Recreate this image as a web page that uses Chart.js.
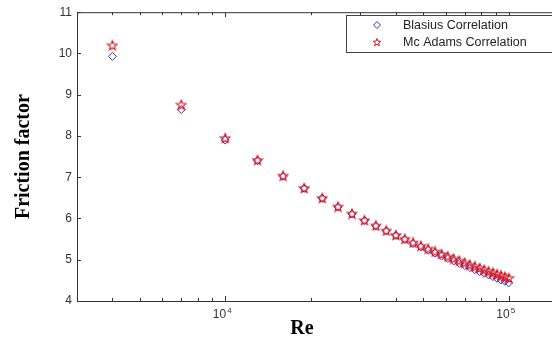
<!DOCTYPE html>
<html>
<head>
<meta charset="utf-8">
<script src="https://cdn.jsdelivr.net/npm/chart.js@4/dist/chart.umd.min.js"></script>
<style>
  html, body { margin: 0; padding: 0; background: #fff; overflow: hidden; width: 552px; height: 337px; }
  #wrap { width: 600px; height: 337px; }
</style>
</head>
<body>
<div id="wrap"><canvas id="chart" width="600" height="337" style="width:600px;height:337px"></canvas></div>
<script>
const reynolds = [4000, 7000, 10000, 13000, 16000, 19000, 22000, 25000, 28000, 31000, 34000,
  37000, 40000, 43000, 46000, 49000, 52000, 55000, 58000, 61000, 64000, 67000, 70000,
  73000, 76000, 79000, 82000, 85000, 88000, 91000, 94000, 97000, 100000];
const blasius = [9.93, 8.64, 7.90, 7.40, 7.02, 6.73, 6.49, 6.28, 6.11, 5.95, 5.82,
  5.70, 5.59, 5.49, 5.39, 5.31, 5.23, 5.16, 5.09, 5.03, 4.97, 4.91, 4.86,
  4.81, 4.76, 4.71, 4.67, 4.63, 4.59, 4.55, 4.51, 4.48, 4.44];
const mcAdams = [10.20, 8.76, 7.95, 7.42, 7.04, 6.74, 6.50, 6.29, 6.12, 5.96, 5.83,
  5.71, 5.60, 5.51, 5.42, 5.34, 5.27, 5.20, 5.14, 5.08, 5.03, 4.98, 4.93,
  4.88, 4.84, 4.80, 4.76, 4.72, 4.69, 4.65, 4.62, 4.59, 4.56];
const yTicks = [4, 5, 6, 7, 8, 9, 10, 11];
const majorX = [1e4, 1e5];
const minorX = [4000, 5000, 6000, 7000, 8000, 9000, 20000, 30000, 40000, 50000, 60000, 70000, 80000, 90000];
const seriesNames = ["Blasius Correlation", "Mc Adams Correlation"];

const blue = "#3636c4";
const red = "#d8141e";

function starPath(ctx, cx, cy, ro, ri) {
  ctx.beginPath();
  for (let i = 0; i < 10; i++) {
    const r = i % 2 === 0 ? ro : ri;
    const a = -Math.PI / 2 + i * Math.PI / 5;
    const px = cx + r * Math.cos(a), py = cy + r * Math.sin(a);
    if (i === 0) ctx.moveTo(px, py); else ctx.lineTo(px, py);
  }
  ctx.closePath();
}

function makeStar(size, ro, ri) {
  const c = document.createElement("canvas");
  c.width = size; c.height = size;
  const g = c.getContext("2d");
  g.strokeStyle = red;
  g.lineWidth = 1.1;
  starPath(g, size / 2, size / 2 + 0.5, ro, ri);
  g.stroke();
  return c;
}
const starImg = makeStar(12, 5, 2.2);

// box, inward ticks, 10^n labels, x title and legend (plot runs past the right edge)
const frame = {
  id: "frame",
  afterDraw(chart) {
    const { ctx, chartArea: a, scales: { x, y } } = chart;
    ctx.save();
    ctx.strokeStyle = "#333";
    ctx.lineWidth = 1;
    ctx.strokeRect(a.left + 0.5, a.top + 0.5, a.right - a.left, a.bottom - a.top);
    ctx.beginPath();
    yTicks.forEach(v => {
      const py = Math.round(y.getPixelForValue(v)) + 0.5;
      ctx.moveTo(a.left, py); ctx.lineTo(a.left + 4, py);
      ctx.moveTo(a.right, py); ctx.lineTo(a.right - 4, py);
    });
    majorX.forEach(v => {
      const px = Math.round(x.getPixelForValue(v)) + 0.5;
      ctx.moveTo(px, a.bottom); ctx.lineTo(px, a.bottom - 5);
      ctx.moveTo(px, a.top); ctx.lineTo(px, a.top + 5);
    });
    minorX.forEach(v => {
      const px = Math.round(x.getPixelForValue(v)) + 0.5;
      ctx.moveTo(px, a.bottom); ctx.lineTo(px, a.bottom - 3);
      ctx.moveTo(px, a.top); ctx.lineTo(px, a.top + 3);
    });
    ctx.stroke();

    ctx.fillStyle = "#333";
    ctx.textBaseline = "alphabetic";
    majorX.forEach(v => {
      const px = x.getPixelForValue(v);
      ctx.font = "12px 'Liberation Sans', Arial, sans-serif";
      ctx.textAlign = "right";
      ctx.fillText("10", px + 1, 318);
      ctx.font = "8px 'Liberation Sans', Arial, sans-serif";
      ctx.textAlign = "left";
      ctx.fillText(String(Math.round(Math.log10(v))), px + 2, 313);
    });

    ctx.fillStyle = "#000";
    ctx.font = "bold 20px 'Liberation Serif', 'Times New Roman', serif";
    ctx.textAlign = "center";
    ctx.fillText("Re", 302, 334);

    const lx = 346.5, ly = 15.5, lw = 230, lh = 37;
    ctx.fillStyle = "#fff";
    ctx.fillRect(lx, ly, lw, lh);
    ctx.strokeStyle = "#444";
    ctx.strokeRect(lx, ly, lw, lh);
    ctx.strokeStyle = blue;
    ctx.beginPath();
    ctx.moveTo(377, 21.5); ctx.lineTo(380.5, 25); ctx.lineTo(377, 28.5); ctx.lineTo(373.5, 25); ctx.closePath();
    ctx.stroke();
    ctx.strokeStyle = red;
    starPath(ctx, 377, 42.5, 4, 1.7);
    ctx.stroke();
    ctx.fillStyle = "#222";
    ctx.font = "12.5px 'Liberation Sans', Arial, sans-serif";
    ctx.textAlign = "left";
    ctx.textBaseline = "middle";
    ctx.fillText(seriesNames[0], 403, 25.5);
    ctx.fillText(seriesNames[1], 403, 42.5);
    ctx.restore();
  }
};

const whiteBg = {
  id: "whiteBg",
  beforeDraw(chart) {
    const { ctx, width, height } = chart;
    ctx.save();
    ctx.fillStyle = "#fff";
    ctx.fillRect(0, 0, width, height);
    ctx.restore();
  }
};

new Chart(document.getElementById("chart"), {
  type: "scatter",
  data: {
    datasets: [
      {
        label: seriesNames[1],
        data: reynolds.map((r, i) => ({ x: r, y: mcAdams[i] })),
        pointStyle: starImg,
        pointRadius: 5,
        pointHoverRadius: 5
      },
      {
        label: seriesNames[0],
        data: reynolds.map((r, i) => ({ x: r, y: blasius[i] })),
        pointStyle: "rectRot",
        pointRadius: 4,
        pointHoverRadius: 4,
        borderColor: blue,
        backgroundColor: "rgba(0,0,0,0)",
        borderWidth: 1
      }
    ]
  },
  options: {
    responsive: false,
    animation: false,
    devicePixelRatio: 1,
    events: [],
    layout: { padding: { top: 11, right: 6, left: 0, bottom: 0 } },
    plugins: { legend: { display: false }, tooltip: { enabled: false } },
    scales: {
      x: {
        type: "logarithmic",
        min: 3000,
        max: 200000,
        grid: { display: false, drawTicks: false },
        border: { display: false },
        ticks: { display: false },
        title: { display: false },
        afterFit(scale) { scale.height = 36; }
      },
      y: {
        min: 4,
        max: 11,
        grid: { display: false, drawTicks: false },
        border: { display: false },
        ticks: {
          stepSize: 1,
          padding: 5,
          color: "#333",
          font: { family: "'Liberation Sans', Arial, sans-serif", size: 12 }
        },
        title: {
          display: true,
          text: "Friction factor",
          color: "#000",
          font: { family: "'Liberation Serif', 'Times New Roman', serif", size: 20, weight: "bold", lineHeight: 1 },
          padding: { top: 14, bottom: 0 }
        },
        afterFit(scale) { scale.width = 77; }
      }
    }
  },
  plugins: [whiteBg, frame]
});
</script>
</body>
</html>
